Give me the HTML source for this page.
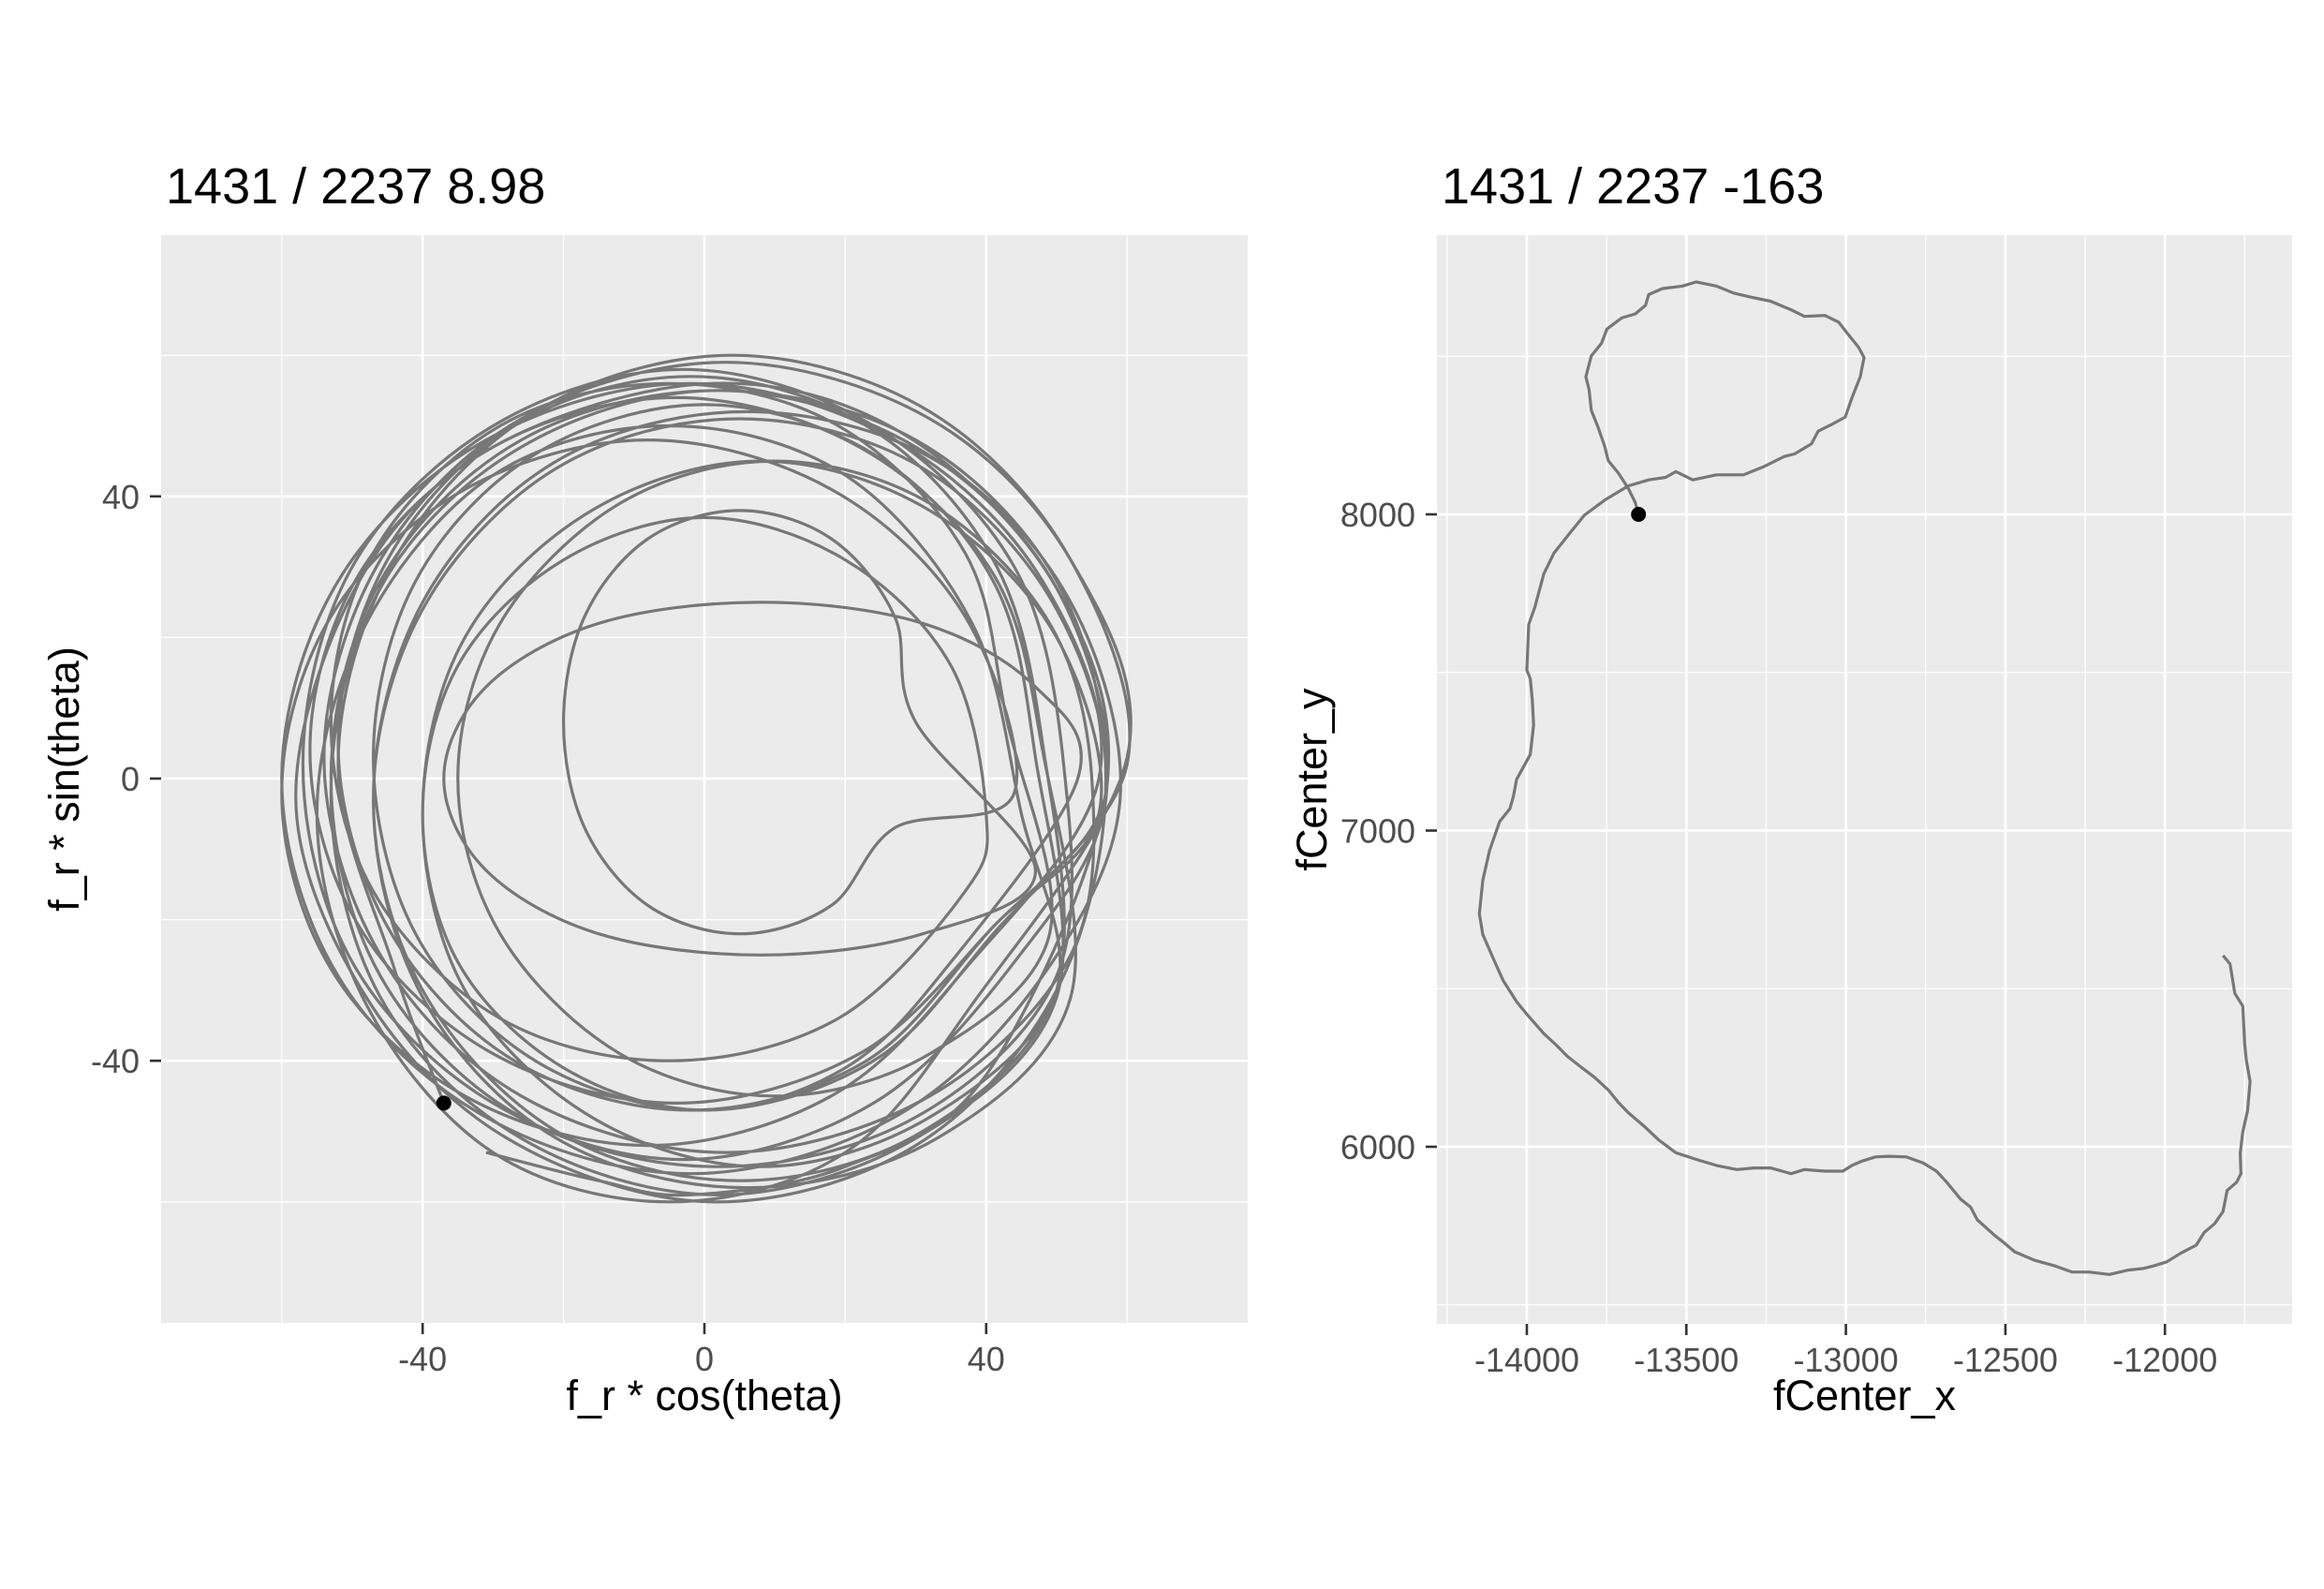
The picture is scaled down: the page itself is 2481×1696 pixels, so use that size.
<!DOCTYPE html>
<html><head><meta charset="utf-8">
<style>
html,body{margin:0;padding:0;background:#fff;}
svg{display:block;font-family:"Liberation Sans",Arial,sans-serif;}
</style></head>
<body>
<svg id="chart" width="2481" height="1696" viewBox="0 0 2481 1696" xmlns="http://www.w3.org/2000/svg">
<rect width="2481" height="1696" fill="#fff"/>
<g id="left"></g>
<g id="right"></g>
</svg>
<script>
// ---- Left panel data ----
const leftTitle = "1431 / 2237 8.98";
const leftXTicks = [-40, 0, 40];
const leftYTicks = [-40, 0, 40];
const leftXMinor = [-60, -20, 20, 60];
const leftYMinor = [-60, -20, 20, 60];
const loopX = [
 -31,-15,-2,20,40,
 57,50,28,1,-30,-49,-58,-48,-28,1,30,50,
 57,50,30,2,-26,-46,-53,-46,-26,2,30,50,
 51,44,24,-3,-30,-50,-57,-50,-30,-3,24,44,
 57,50,31,5,-21,-40,-47,-40,-21,5,31,50,
 48,41,23,-2,-27,-45,-52,-45,-27,-2,23,41,
 56,50,32,8,-16,-34,-40,-34,-16,8,32,50,
 45,38,20,-5,-30,-48,-55,-48,-30,-5,20,38,
 60,52,32,3,-26,-46,-54,-46,-26,3,32,52,
 55,49,32,10,-12,-29,-35,-29,-12,10,32,49,
 43,37,19,-5,-29,-47,-53,-47,-29,-5,19,37,
 40,35,20,0,-20,-35,-40,-35,-20,0,20,35,
 53,47,31,8,-15,-31,-37,-31,-15,8,31,47,
 30,27,18,5,-8,-17,-20,-17,-8,5,18,27,
 44,37,18,-8,-34,-53,-60,-53,-34,-8,18,37,
 56,48,27,-2,-31,-52,-60,-52,-31,-2,27,48,
 59,52,33,6,-21,-40,-47,-40,-21,6,33,52,
 48,41,22,-4,-30,-49,-56,-49,-30,-4,22,41,
 57,50,30,2,-26,-46,-53,-46,-26,2,30,50,
 47,41,24,0,-24,-41,-47,-41,-24,0,24,41,
 60,52,32,4,-24,-44,-52,-44,-37
];
const loopY = [
 -53,-57,-59,-55,-42,
 -2,27,49,56,47,28,-3,-31,-51,-60,-52,-30,
 0,28,48,55,48,28,0,-28,-48,-55,-48,-28,
 2,30,50,58,50,30,2,-26,-46,-54,-46,-26,
 -3,24,44,51,44,24,-3,-30,-50,-57,-50,-30,
 5,31,50,57,50,31,5,-21,-40,-47,-40,-21,
 -5,20,38,45,38,20,-5,-30,-48,-55,-48,-30,
 -5,22,43,50,43,22,-5,-32,-53,-60,-53,-32,
 3,31,51,59,51,31,3,-25,-45,-53,-45,-25,
 0,22,39,45,39,22,0,-22,-39,-45,-39,-22,
 8,32,50,56,50,32,8,-16,-34,-40,-34,-16,
 -5,16,31,37,31,16,-5,-26,-41,-47,-41,-26,
 0,13,22,25,22,13,0,-13,-22,-25,-22,-13,
 8,23,34,38,34,23,8,-7,-18,-22,-18,-7,
 -2,23,41,48,41,23,-2,-27,-45,-52,-45,-27,
 0,28,48,56,48,28,0,-28,-48,-56,-48,-28,
 -3,25,45,52,45,25,-3,-31,-51,-58,-51,-31,
 4,29,47,54,47,29,4,-21,-39,-46,-39,-21,
 -2,27,47,55,47,27,-2,-31,-51,-59,-51,-31,
 3,28,46,53,46,28,3,-22,-40,-47,-40,-22,
 2,31,52,60,52,31,2,-27,-46
];
const leftDot = [-37, -46];

// ---- Right panel data ----
const rightTitle = "1431 / 2237 -163";
const rightXTicks = [-14000, -13500, -13000, -12500, -12000];
const rightYTicks = [6000, 7000, 8000];
const rightXMinor = [-14250, -13750, -13250, -12750, -12250, -11750];
const rightYMinor = [5500, 6500, 7500, 8500];
const pathX = [-11818,-11796,-11781,-11756,-11750,-11745,-11733,-11741,-11756,-11764,-11762,-11775,-11805,-11818,-11845,-11877,-11902,-11951,-11994,-12036,-12068,-12115,-12174,-12238,-12291,-12344,-12408,-12471,-12503,-12535,-12588,-12609,-12641,-12684,-12716,-12758,-12811,-12864,-12907,-12949,-12981,-13009,-13066,-13130,-13172,-13236,-13289,-13342,-13406,-13469,-13533,-13586,-13628,-13682,-13713,-13745,-13788,-13830,-13873,-13904,-13947,-14000,-14032,-14074,-14106,-14138,-14149,-14138,-14117,-14085,-14053,-14042,-14032,-13989,-13979,-13983,-13989,-14000,-13994,-13975,-13947,-13915,-13873,-13820,-13756,-13682,-13618,-13565,-13533,-13512,-13480,-13406,-13321,-13257,-13193,-13161,-13108,-13087,-13045,-13002,-12981,-12955,-12943,-12960,-12992,-13023,-13066,-13130,-13172,-13236,-13299,-13352,-13406,-13469,-13512,-13575,-13618,-13628,-13660,-13703,-13749,-13766,-13798,-13815,-13805,-13798,-13777,-13756,-13745,-13713,-13682,-13660,-13650];
const pathY = [6605,6578,6485,6445,6326,6273,6207,6114,6047,5981,5915,5888,5862,5795,5756,5729,5689,5663,5636,5623,5615,5610,5596,5604,5604,5623,5641,5668,5695,5721,5769,5809,5835,5888,5923,5949,5968,5970,5968,5955,5941,5923,5923,5928,5915,5933,5933,5928,5941,5960,5981,6021,6061,6108,6140,6180,6220,6252,6286,6318,6358,6419,6459,6525,6597,6671,6737,6843,6936,7029,7069,7109,7162,7241,7334,7414,7480,7507,7652,7706,7812,7878,7931,7997,8045,8090,8109,8117,8135,8125,8109,8125,8125,8151,8183,8191,8223,8263,8284,8308,8369,8435,8496,8528,8568,8608,8629,8626,8647,8674,8687,8700,8722,8735,8722,8714,8695,8661,8634,8621,8586,8541,8501,8435,8395,8329,8276,8215,8170,8130,8082,8037,8000];
const rightDot = [-13650, 8000];

const NS = "http://www.w3.org/2000/svg";
function mk(parent, tag, attrs, text) {
  const e = document.createElementNS(NS, tag);
  for (const k in attrs) e.setAttribute(k, attrs[k]);
  if (text !== undefined) e.textContent = text;
  parent.appendChild(e);
  return e;
}

function linePath(pts) {
  let d = "";
  pts.forEach((p, i) => { d += (i ? "L" : "M") + p[0].toFixed(1) + "," + p[1].toFixed(1); });
  return d;
}
function smoothPath(pts) {
  let d = "M" + pts[0][0].toFixed(1) + "," + pts[0][1].toFixed(1);
  for (let i = 0; i < pts.length - 1; i++) {
    const p0 = pts[Math.max(0, i - 1)], p1 = pts[i], p2 = pts[i + 1], p3 = pts[Math.min(pts.length - 1, i + 2)];
    const c1 = [p1[0] + (p2[0] - p0[0]) / 6, p1[1] + (p2[1] - p0[1]) / 6];
    const c2 = [p2[0] - (p3[0] - p1[0]) / 6, p2[1] - (p3[1] - p1[1]) / 6];
    d += "C" + c1[0].toFixed(1) + "," + c1[1].toFixed(1) + " " + c2[0].toFixed(1) + "," + c2[1].toFixed(1) + " " + p2[0].toFixed(1) + "," + p2[1].toFixed(1);
  }
  return d;
}

function drawPanel(g, P, xs, ys, xTicks, yTicks, xMinor, yMinor, fmt, title, xTitle, yTitle, yTitleX, px, py, dot, smooth) {
  const bg = mk(g, "rect", {x: P.l, y: P.t, width: P.r - P.l, height: P.b - P.t, fill: "#ebebeb"});
  
  
  xMinor.forEach(v => { const l = mk(g, "line", {x1: xs(v), x2: xs(v), y1: P.t, y2: P.b, stroke: "#fff", "stroke-width": 1.3});
    
     });
  yMinor.forEach(v => { const l = mk(g, "line", {x1: P.l, x2: P.r, y1: ys(v), y2: ys(v), stroke: "#fff", "stroke-width": 1.3});
    
     });
  xTicks.forEach(v => {
    const l = mk(g, "line", {x1: xs(v), x2: xs(v), y1: P.t, y2: P.b, stroke: "#fff", "stroke-width": 2.6});
    
    
    const t = mk(g, "line", {x1: xs(v), x2: xs(v), y1: P.b, y2: P.b + 12, stroke: "#333", "stroke-width": 2.6});
    
    
    const tx = mk(g, "text", {x: xs(v), y: P.b + 51, "text-anchor": "middle", "font-size": 36, fill: "#4d4d4d"}, fmt(v));
    
    
  });
  yTicks.forEach(v => {
    const l = mk(g, "line", {x1: P.l, x2: P.r, y1: ys(v), y2: ys(v), stroke: "#fff", "stroke-width": 2.6});
    
    
    const t = mk(g, "line", {x1: P.l - 12, x2: P.l, y1: ys(v), y2: ys(v), stroke: "#333", "stroke-width": 2.6});
    
    
    const tx = mk(g, "text", {x: P.l - 23, y: ys(v) + 13, "text-anchor": "end", "font-size": 36, fill: "#4d4d4d"}, fmt(v));
    
    
  });
  const n = Math.min(px.length, py.length);
  const pts = [];
  for (let i = 0; i < n; i++) pts.push([xs(px[i]), ys(py[i])]);
  const path = mk(g, "path", {d: smooth ? smoothPath(pts) : linePath(pts), fill: "none", stroke: "#777", "stroke-width": 3.2, "stroke-linejoin": "round"});
  
  
  const c = mk(g, "circle", {cx: xs(dot[0]), cy: ys(dot[1]), r: 8, fill: "#000"});
  
  
  const tt = mk(g, "text", {x: P.l + 5, y: 217, "font-size": 54, fill: "#000"}, title);
  
  
  const xt = mk(g, "text", {x: (P.l + P.r) / 2, y: 1505, "text-anchor": "middle", "font-size": 45, fill: "#000"}, xTitle);
  
  
  const cy = (P.t + P.b) / 2;
  const yt = mk(g, "text", {x: yTitleX, y: cy, "text-anchor": "middle", "font-size": 45, fill: "#000", transform: "rotate(-90," + yTitleX + "," + cy + ")"}, yTitle);
  
  
}

// Left panel axes
const PL = {l: 172, r: 1332, t: 251, b: 1412};
const lxs = v => 752 + v * 7.52;
const lys = v => 831 - v * 7.53;
drawPanel(document.getElementById("left"), PL, lxs, lys, leftXTicks, leftYTicks, leftXMinor, leftYMinor,
  v => String(v), leftTitle, "f_r * cos(theta)", "f_r * sin(theta)", 84, loopX, loopY, leftDot, true);

// Right panel axes
const PR = {l: 1534, r: 2447, t: 251, b: 1413};
const rxs = v => 1630 + (v + 14000) * 0.3406;
const rys = v => 549 - (v - 8000) * 0.3375;
drawPanel(document.getElementById("right"), PR, rxs, rys, rightXTicks, rightYTicks, rightXMinor, rightYMinor,
  v => String(v), rightTitle, "fCenter_x", "fCenter_y", 1416, pathX, pathY, rightDot, false);
</script>
</body></html>
